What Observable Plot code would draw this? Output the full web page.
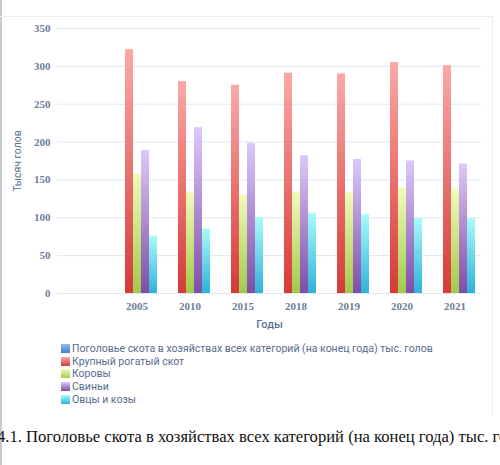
<!DOCTYPE html>
<html>
<head>
<meta charset="utf-8">
<script src="https://cdn.jsdelivr.net/npm/d3@7"></script>
<script src="https://cdn.jsdelivr.net/npm/@observablehq/plot@0.6"></script>
<style>
  html, body { margin: 0; padding: 0; background: #fff; }
  body { width: 500px; height: 465px; overflow: hidden; position: relative; font-family: Roboto, "Noto Sans", sans-serif; }
  #leftline { position: absolute; left: 0; top: 0; width: 2px; height: 465px; background: #c4cad1; }
  #frame { position: absolute; left: 0; top: 16px; width: 492px; height: 399px; border-top: 1px solid #e8edf3; border-right: 1px solid #e8edf3; }
  #chart { position: absolute; left: 0; top: 0; }
  #chart svg [aria-label="y-axis label"] text { font-family: Roboto, sans-serif; font-weight: 400; font-size: 10.5px; fill: #5a7194; }
  #chart svg [aria-label="fx-axis label"] text { font-family: Roboto, sans-serif; font-weight: 500; font-size: 11px; fill: #5a7194; }
  #legend { position: absolute; left: 61px; top: 342px; font-size: 10.5px; color: #566b8e; }
  .item { display: flex; align-items: center; height: 12.7px; white-space: nowrap; }
  .sw { width: 9px; height: 9px; margin-right: 2px; flex: none; }
  #caption { position: absolute; left: -3px; top: 427px; white-space: nowrap; font: 16.6px "Liberation Serif", "Times New Roman", serif; color: #111; }
</style>
</head>
<body>
<div id="leftline"></div>
<div id="frame"></div>
<div id="chart"></div>
<div id="legend"></div>
<div id="caption"></div>
<script>
// Livestock numbers, thousand head, end of year.
// The first category is the table's unlabeled header column (no values).
const years = ["", "2005", "2010", "2015", "2018", "2019", "2020", "2021"];
const seriesNames = [
  "Поголовье скота в хозяйствах всех категорий (на конец года) тыс. голов",
  "Крупный рогатый скот",
  "Коровы",
  "Свиньи",
  "Овцы и козы"
];
const totalHeader = [null, null, null, null, null, null, null, null];
const cattle = [null, 322, 280, 275, 291, 290, 305, 301];
const cows   = [null, 158, 134, 130, 134, 133, 139, 138];
const pigs   = [null, 189, 219, 198, 182, 177, 175, 171];
const sheep  = [null, 76, 85, 100, 106, 104, 99, 99];
const yTicks = [0, 50, 100, 150, 200, 250, 300, 350];
const captionText = "4.1. Поголовье скота в хозяйствах всех категорий (на конец года) тыс. голов";

// gradient stops per series: light at the top, saturated at the base
const gradTop    = ["#8fbdf2", "#fba9a6", "#f1fbbb", "#ddc8fa", "#a9fbfd"];
const gradBottom = ["#3f7fd6", "#d63a37", "#a2c94a", "#7d4ea6", "#2fb2d9"];

const valuesBySeries = [totalHeader, cattle, cows, pigs, sheep];
const rows = [];
valuesBySeries.forEach((vals, s) => {
  years.forEach((y, i) => rows.push({year: y, series: seriesNames[s], value: vals[i]}));
});

// shared gradient definitions
const ns = "http://www.w3.org/2000/svg";
const defsSvg = document.createElementNS(ns, "svg");
defsSvg.setAttribute("width", 0);
defsSvg.setAttribute("height", 0);
defsSvg.style.position = "absolute";
const defs = document.createElementNS(ns, "defs");
seriesNames.forEach((_, i) => {
  const g = document.createElementNS(ns, "linearGradient");
  g.setAttribute("id", "grad" + i);
  g.setAttribute("x1", 0); g.setAttribute("y1", 0);
  g.setAttribute("x2", 0); g.setAttribute("y2", 1);
  [[0, gradTop[i]], [1, gradBottom[i]]].forEach(([o, c]) => {
    const st = document.createElementNS(ns, "stop");
    st.setAttribute("offset", o);
    st.setAttribute("stop-color", c);
    g.appendChild(st);
  });
  defs.appendChild(g);
});
defsSvg.appendChild(defs);
document.body.appendChild(defsSvg);

const chart = Plot.plot({
  width: 500,
  height: 335,
  marginLeft: 55,
  marginRight: 18,
  marginTop: 28,
  marginBottom: 42,
  style: {fontFamily: "'Liberation Serif', serif", fontSize: "11px", fontWeight: "bold", color: "#6b7d98", background: "transparent"},
  fx: {domain: years, padding: 0},
  x: {domain: seriesNames, paddingInner: 0, paddingOuter: 0.5, axis: null},
  y: {domain: [0, 350]},
  marks: [
    Plot.gridY(yTicks, {stroke: "#dfe7f2", strokeOpacity: 1, strokeWidth: 1}),
    Plot.axisY(yTicks, {tickSize: 0, tickPadding: 7, label: "Тысяч голов", labelAnchor: "center", labelArrow: "none", labelOffset: 44}),
    Plot.axisFx({anchor: "bottom", tickSize: 0, tickPadding: 9, label: "Годы", labelAnchor: "center", labelArrow: "none", labelOffset: 34}),
    ...seriesNames.map((name, i) =>
      Plot.barY(rows.filter(r => r.series === name), {
        fx: "year", x: "series", y: "value", fill: `url(#grad${i})`
      })
    )
  ]
});
document.getElementById("chart").appendChild(chart);

// legend
const legend = document.getElementById("legend");
seriesNames.forEach((name, i) => {
  const item = document.createElement("div");
  item.className = "item";
  const sw = document.createElement("span");
  sw.className = "sw";
  sw.style.background = `linear-gradient(${gradTop[i]}, ${gradBottom[i]})`;
  const label = document.createElement("span");
  label.textContent = name;
  item.appendChild(sw);
  item.appendChild(label);
  legend.appendChild(item);
});

document.getElementById("caption").textContent = captionText;
</script>
</body>
</html>
